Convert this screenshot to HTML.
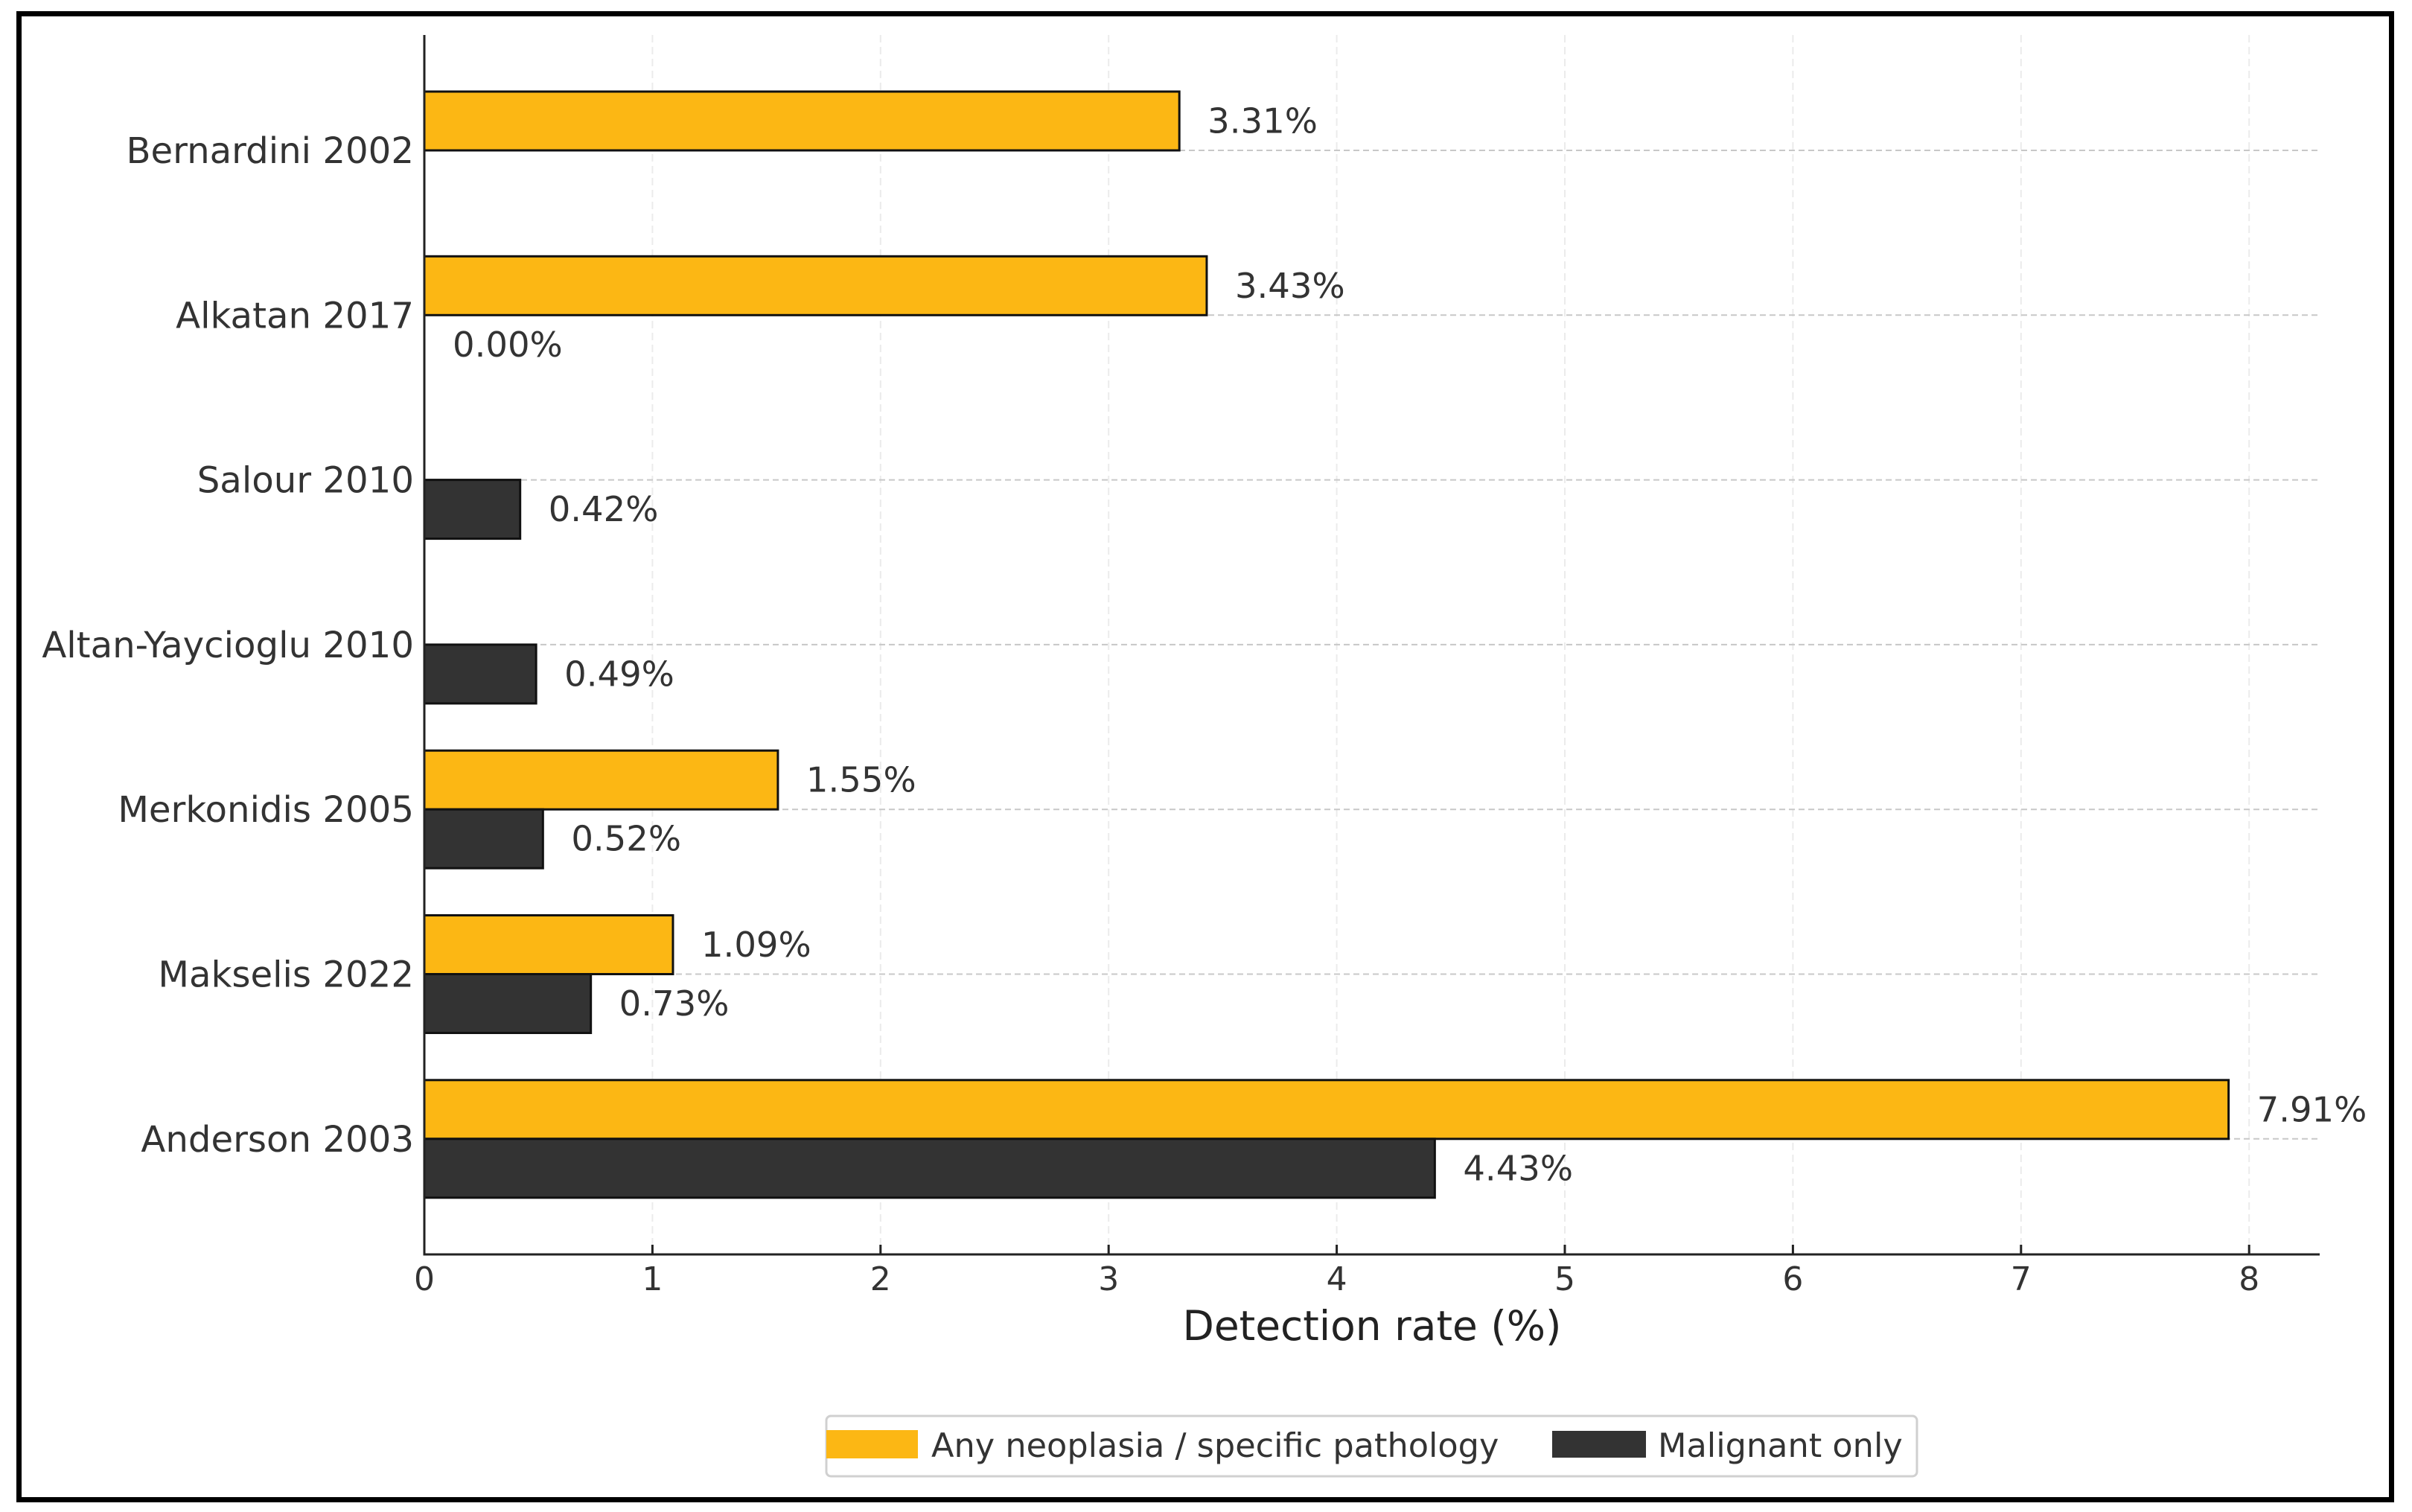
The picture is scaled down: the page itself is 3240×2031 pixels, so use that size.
<!DOCTYPE html>
<html><head><meta charset="utf-8"><style>
html,body{margin:0;padding:0;background:#fff;}
svg{display:block;font-family:"DejaVu Sans","Liberation Sans",sans-serif;}
</style></head><body>
<svg id="chart" width="3240" height="2031" viewBox="0 0 3240 2031" xmlns="http://www.w3.org/2000/svg">
<rect x="0" y="0" width="3240" height="2031" fill="#fff"/>
<rect x="25.5" y="18.5" width="3187" height="1996" fill="none" stroke="#000" stroke-width="7"/>
<g id="grid"></g>
<g id="bars"></g>
<g id="axes"></g>
<g id="legend">
  <rect x="1110" y="1902" width="1465" height="81" rx="6" fill="#fff" stroke="#d0d0d0" stroke-width="3"/>
  <rect x="1110" y="1921" width="123" height="38" fill="#FCB714"/>
  <text x="1251" y="1957" font-size="44.6" fill="#333">Any neoplasia / specific pathology</text>
  <rect x="2085" y="1922" width="126" height="36" fill="#333"/>
  <text x="2227" y="1957" font-size="44.6" fill="#333">Malignant only</text>
</g>
</svg>
<script>
const categories = ["Bernardini 2002","Alkatan 2017","Salour 2010","Altan-Yaycioglu 2010","Merkonidis 2005","Makselis 2022","Anderson 2003"];
const anyNeoplasia = [3.31, 3.43, null, null, 1.55, 1.09, 7.91];
const malignantOnly = [null, 0.00, 0.42, 0.49, 0.52, 0.73, 4.43];
const xTicks = [0,1,2,3,4,5,6,7,8];

const NS = "http://www.w3.org/2000/svg";
const X0 = 570, XPU = 306.4, XEND = 3116;
const YTOP = 47, YBOT = 1685, Y0 = 202, STEP = 221.3, BH = 79;
const xs = v => X0 + v * XPU;
const yc = i => Y0 + i * STEP;
function mk(tag, attrs, parent, txt){
  const e = document.createElementNS(NS, tag);
  for (const k in attrs) e.setAttribute(k, attrs[k]);
  if (txt !== undefined) e.textContent = txt;
  parent.appendChild(e); return e;
}
const grid = document.getElementById('grid');
const bars = document.getElementById('bars');
const axes = document.getElementById('axes');

xTicks.forEach(t => {
  const l = mk('line', {x1:xs(t), x2:xs(t), y1:YTOP, y2:YBOT, stroke:'#ebebeb', 'stroke-width':2, 'stroke-dasharray':'10,6'}, grid);
  
  
});
categories.forEach((c, i) => {
  const l = mk('line', {x1:X0, x2:XEND, y1:yc(i), y2:yc(i), stroke:'#c8c8c8', 'stroke-width':2, 'stroke-dasharray':'8,5'}, grid);
  
  
});

categories.forEach((c, i) => {
  const a = anyNeoplasia[i];
  if (a !== null) {
    const r = mk('rect', {x:X0, y:yc(i)-BH, width:xs(a)-X0, height:BH, fill:'#FCB714', stroke:'#111', 'stroke-width':3}, bars);
    
    
    const t = mk('text', {x:xs(a)+38, y:yc(i)-BH/2+16, 'font-size':46.5, fill:'#333'}, bars, a.toFixed(2)+'%');
    
    
  }
  const m = malignantOnly[i];
  if (m !== null) {
    if (m > 0) {
      const r = mk('rect', {x:X0, y:yc(i), width:xs(m)-X0, height:BH, fill:'#333', stroke:'#111', 'stroke-width':3}, bars);
      
      
    }
    const t = mk('text', {x:xs(m)+38, y:yc(i)+BH/2+16, 'font-size':46.5, fill:'#333'}, bars, m.toFixed(2)+'%');
    
    
  }
  const lab = mk('text', {x:X0-14, y:yc(i)+17, 'font-size':48.2, fill:'#333', 'text-anchor':'end'}, axes, c);
  
  
});

const ya = mk('line', {x1:X0, x2:X0, y1:YTOP, y2:YBOT+1.5, stroke:'#222', 'stroke-width':3}, axes);


const xa = mk('line', {x1:X0-1.5, x2:XEND, y1:YBOT, y2:YBOT, stroke:'#222', 'stroke-width':3}, axes);


xTicks.forEach(t => {
  const tk = mk('line', {x1:xs(t), x2:xs(t), y1:YBOT, y2:YBOT-13, stroke:'#222', 'stroke-width':3}, axes);
  
  
  const tl = mk('text', {x:xs(t), y:YBOT+48, 'font-size':44, fill:'#333', 'text-anchor':'middle'}, axes, String(t));
  
  
});
const xt = mk('text', {x:(X0+XEND)/2, y:1800, 'font-size':55, fill:'#222', 'text-anchor':'middle'}, axes, 'Detection rate (%)');


</script>
</body></html>
